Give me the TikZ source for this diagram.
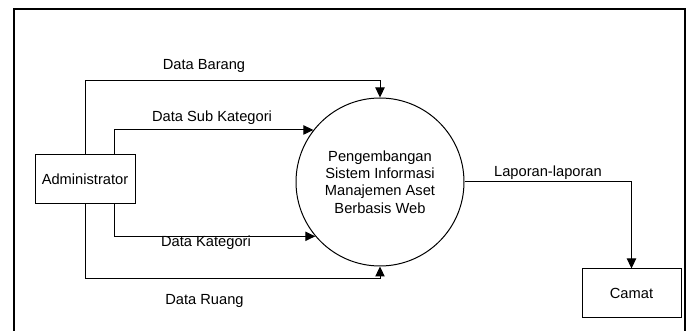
\documentclass[tikz,border=0pt]{standalone}
\usepackage{fontspec}
\setmainfont{Liberation Sans}
\usetikzlibrary{arrows.meta}
\tikzset{
  entity/.style={draw,line width=0.75pt,minimum width=75pt,minimum height=36.75pt,inner sep=0pt},
  process/.style={draw,circle,line width=0.75pt,minimum size=126pt,inner sep=0pt,align=center},
  flow/.style={line width=0.75pt,-{Triangle[length=7.5pt,width=7pt]}},
  lbl/.style={anchor=base,inner sep=0pt}
}
\begin{document}
\begin{tikzpicture}[x=0.75pt,y=-0.75pt,font=\fontsize{11pt}{13pt}\selectfont]
\useasboundingbox (0,0) rectangle (693,331);
\draw[line width=1.5pt] (14,340) -- (14,9) -- (685,9) -- (685,340);
\node[entity] (adm) at (85,179.5) {Administrator};
\node[entity,minimum width=74.25pt] (cam) at (631.5,293.5) {Camat};
\node[process] (proc) at (380,182) {Pengembangan\\Sistem Informasi\\Manajemen Aset\\Berbasis Web};
\draw[flow] (adm.north) -- ++(0,-74) -| (proc.north);
\draw[flow] ([xshift=21.75pt]adm.north) |- (proc.142);
\draw[flow] ([xshift=21.75pt]adm.south) |- (proc.220);
\draw[flow] (adm.south) -- ++(0,74) -| (proc.south);
\draw[flow] (proc.east) -| (cam.north);
\node[lbl] (lbarang) at (204,70) {Data Barang};
\node[lbl] (lsub) at (212,122) {Data Sub Kategori};
\node[lbl] (lkat) at (206,247) {Data Kategori};
\node[lbl] (lruang) at (204.5,305) {Data Ruang};
\node[lbl] (llap) at (548,176.5) {Laporan-laporan};
\end{tikzpicture}
\end{document}
